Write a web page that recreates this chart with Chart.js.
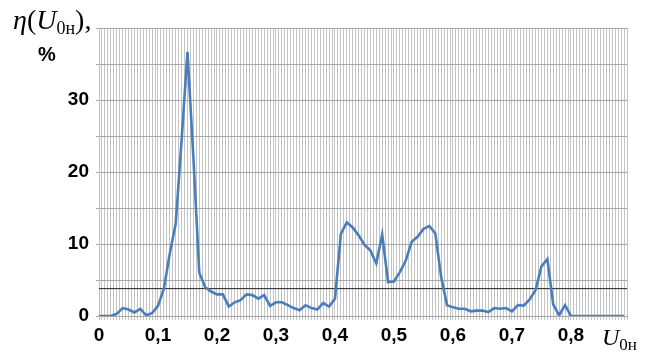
<!DOCTYPE html>
<html>
<head>
<meta charset="utf-8">
<script src="https://cdn.jsdelivr.net/npm/chart.js@4/dist/chart.umd.min.js"></script>
<style>
  html, body { margin: 0; padding: 0; background: #fff; }
  #wrap { position: relative; width: 656px; height: 359px; }
  #c { position: absolute; left: 0; top: 0; }
  .lbl { position: absolute; white-space: nowrap; color: #000; }
  .serif { font-family: "Liberation Serif", "Times New Roman", serif; }
  .serif sub { font-style: normal; vertical-align: baseline; position: relative; }
</style>
</head>
<body>
<div id="wrap">
  <canvas id="c" width="656" height="359"></canvas>
  <div class="lbl serif" style="left:13px; top:6px; font-size:28px; line-height:28px;"><i>η</i>(<i>U</i><sub style="font-size:18px; top:5px;">0н</sub>),</div>
  <div class="lbl" style="left:38px; top:43px; font: bold 20px 'Liberation Sans', Arial, sans-serif;">%</div>
  <div class="lbl serif" style="left:602px; top:325px; font-size:24px; line-height:24px;"><i>U</i><sub style="font-size:17px; top:5px;">0н</sub></div>
</div>
<script>
// U_0н values (x axis)
const uValues = [
  0.00, 0.01, 0.02, 0.03, 0.04, 0.05, 0.06, 0.07, 0.08, 0.09,
  0.10, 0.11, 0.12, 0.13, 0.14, 0.15, 0.16, 0.17, 0.18, 0.19,
  0.20, 0.21, 0.22, 0.23, 0.24, 0.25, 0.26, 0.27, 0.28, 0.29,
  0.30, 0.31, 0.32, 0.33, 0.34, 0.35, 0.36, 0.37, 0.38, 0.39,
  0.40, 0.41, 0.42, 0.43, 0.44, 0.45, 0.46, 0.47, 0.48, 0.49,
  0.50, 0.51, 0.52, 0.53, 0.54, 0.55, 0.56, 0.57, 0.58, 0.59,
  0.60, 0.61, 0.62, 0.63, 0.64, 0.65, 0.66, 0.67, 0.68, 0.69,
  0.70, 0.71, 0.72, 0.73, 0.74, 0.75, 0.76, 0.77, 0.78, 0.79,
  0.80, 0.81, 0.82, 0.83, 0.84, 0.85, 0.86, 0.87, 0.88, 0.89,
];

// eta(U_0н), %
const etaValues = [
  0, 0, 0, 0.3, 1.1, 0.9, 0.5, 1.0, 0.1, 0.4,
  1.4, 3.8, 8.7, 12.8, 24.4, 36.7, 22.0, 6.0, 4.0, 3.4,
  3.0, 3.0, 1.3, 1.9, 2.2, 3.0, 2.9, 2.4, 2.9, 1.4,
  1.9, 1.9, 1.5, 1.1, 0.8, 1.5, 1.1, 0.9, 1.8, 1.3,
  2.4, 11.4, 13.0, 12.3, 11.2, 9.9, 9.1, 7.3, 11.3, 4.7,
  4.8, 6.1, 7.7, 10.3, 11.0, 12.1, 12.5, 11.5, 5.4, 1.5,
  1.2, 1.0, 1.0, 0.65, 0.75, 0.75, 0.55, 1.1, 1.0, 1.1,
  0.65, 1.5, 1.45, 2.3, 3.6, 6.9, 7.9, 1.6, 0.1, 1.5,
  0, 0, 0, 0, 0, 0, 0, 0, 0, 0,
];

// threshold line
const thresholdX = [0, 0.895];
const thresholdY = [3.8, 3.8];

const X_MAX = 0.895;
const yTickLabels = [0, 10, 20, 30];

const tickFont = { family: "'Liberation Sans', Arial, sans-serif", size: 19, weight: "bold" };

new Chart(document.getElementById("c"), {
  type: "line",
  data: {
    datasets: [
      {
        data: uValues.map((u, i) => ({ x: u, y: etaValues[i] })),
        borderColor: "#4a7ebb",
        borderWidth: 2.6,
        pointRadius: 0,
        tension: 0,
        order: 1,
      },
      {
        data: thresholdX.map((u, i) => ({ x: u, y: thresholdY[i] })),
        borderColor: "#222",
        borderWidth: 1,
        pointRadius: 0,
        order: 2,
      },
    ],
  },
  options: {
    responsive: false,
    animation: false,
    events: [],
    layout: { padding: { left: 0, right: 29, top: 28, bottom: 0 } },
    plugins: { legend: { display: false }, tooltip: { enabled: false } },
    scales: {
      x: {
        type: "linear",
        min: 0,
        max: X_MAX,
        afterFit: (s) => { s.height = 43; },
        border: { color: "#a6a6a6" },
        grid: { color: "#c4c4c4", lineWidth: 1, tickLength: 4 },
        ticks: {
          stepSize: 0.005,
          autoSkip: false,
          maxRotation: 0,
          padding: 4,
          color: "#000",
          font: tickFont,
          callback: (v) => {
            const k = Math.round(v * 1000);
            if (k % 100 !== 0) return "";
            return k === 0 ? "0" : (k / 1000).toFixed(1).replace(".", ",");
          },
        },
      },
      y: {
        min: 0,
        max: 40,
        afterFit: (s) => { s.width = 99; },
        border: { color: "#c4c4c4" },
        grid: { color: "#a9a9a9", lineWidth: 1, tickLength: 3 },
        ticks: {
          stepSize: 5,
          padding: 7,
          color: "#000",
          font: tickFont,
          callback: (v) => (yTickLabels.includes(v) ? String(v) : ""),
        },
      },
    },
  },
});
</script>
</body>
</html>
